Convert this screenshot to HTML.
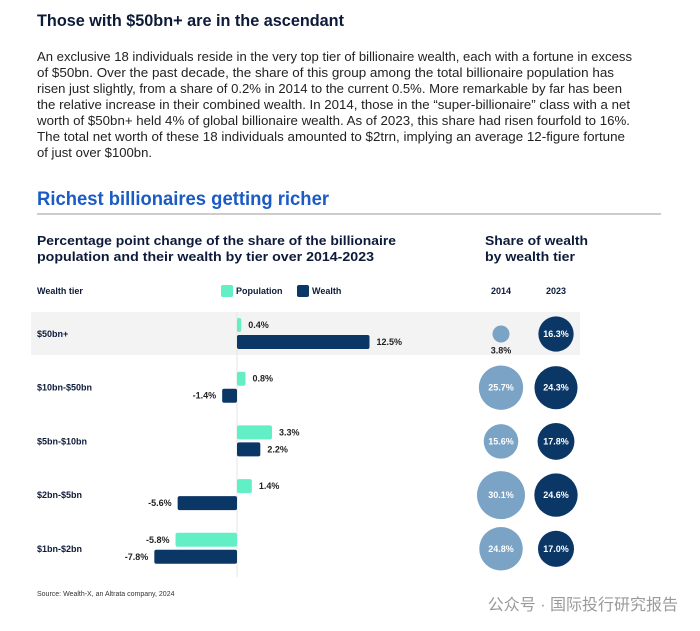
<!DOCTYPE html>
<html><head><meta charset="utf-8"><style>
body{margin:0;background:#fff}
svg{display:block;font-family:"Liberation Sans","Noto Sans CJK SC",sans-serif}
</style></head><body>
<svg id="c" width="700" height="631" viewBox="0 0 700 631">
<text x="37" y="26" font-size="17" font-weight="bold" fill="#0d1b3a" textLength="307" lengthAdjust="spacingAndGlyphs">Those with $50bn+ are in the ascendant</text>
<g font-size="13" fill="#222">
<text x="37" y="61" textLength="595" lengthAdjust="spacingAndGlyphs">An exclusive 18 individuals reside in the very top tier of billionaire wealth, each with a fortune in excess</text>
<text x="37" y="77" textLength="577" lengthAdjust="spacingAndGlyphs">of $50bn. Over the past decade, the share of this group among the total billionaire population has</text>
<text x="37" y="93" textLength="585" lengthAdjust="spacingAndGlyphs">risen just slightly, from a share of 0.2% in 2014 to the current 0.5%. More remarkable by far has been</text>
<text x="37" y="109" textLength="593" lengthAdjust="spacingAndGlyphs">the relative increase in their combined wealth. In 2014, those in the “super-billionaire” class with a net</text>
<text x="37" y="125" textLength="593" lengthAdjust="spacingAndGlyphs">worth of $50bn+ held 4% of global billionaire wealth. As of 2023, this share had risen fourfold to 16%.</text>
<text x="37" y="141" textLength="588" lengthAdjust="spacingAndGlyphs">The total net worth of these 18 individuals amounted to $2trn, implying an average 12-figure fortune</text>
<text x="37" y="157" textLength="115" lengthAdjust="spacingAndGlyphs">of just over $100bn.</text>
</g>
<text x="37" y="205" font-size="19" font-weight="bold" fill="#1a5bc4" textLength="292" lengthAdjust="spacingAndGlyphs">Richest billionaires getting richer</text>
<line x1="37" y1="214" x2="661" y2="214" stroke="#999" stroke-width="1"/>
<g font-size="13" font-weight="bold" fill="#0d1b3a">
<text x="37" y="245" textLength="359" lengthAdjust="spacingAndGlyphs">Percentage point change of the share of the billionaire</text>
<text x="37" y="261" textLength="337" lengthAdjust="spacingAndGlyphs">population and their wealth by tier over 2014-2023</text>
<text x="485" y="245" textLength="103" lengthAdjust="spacingAndGlyphs">Share of wealth</text>
<text x="485" y="261" textLength="90" lengthAdjust="spacingAndGlyphs">by wealth tier</text>
</g>
<g font-size="9" font-weight="bold" fill="#0d1b3a">
<text x="37" y="294">Wealth tier</text>
<rect x="221" y="285" width="12" height="12" rx="2" fill="#62efc6"/>
<text x="236" y="294">Population</text>
<rect x="297" y="285" width="12" height="12" rx="2" fill="#0b3766"/>
<text x="312" y="294">Wealth</text>
<text x="501" y="294" text-anchor="middle">2014</text>
<text x="556" y="294" text-anchor="middle">2023</text>
</g>
<rect x="31" y="312" width="549" height="43" fill="#f3f3f3"/>
<g id="marks"></g>
<text x="37" y="596" font-size="7" fill="#333">Source: Wealth-X, an Altrata company, 2024</text>
<text x="678" y="610" font-size="16" fill="#9a9a9a" text-anchor="end">公众号 · 国际投行研究报告</text>
</svg>
<script>
const tiers = ["$50bn+","$10bn-$50bn","$5bn-$10bn","$2bn-$5bn","$1bn-$2bn"];
const popChange = [0.4, 0.8, 3.3, 1.4, -5.8];
const wealthChange = [12.5, -1.4, 2.2, -5.6, -7.8];
const share2014 = [3.8, 25.7, 15.6, 30.1, 24.8];
const share2023 = [16.3, 24.3, 17.8, 24.6, 17.0];

const NS = "http://www.w3.org/2000/svg";
const g = document.getElementById('marks');
const zeroX = 237, pxPer = 10.6;
const xs = v => zeroX + v * pxPer;
const rowY = i => 334 + i * 53.7;
const rad = v => 4.37 * Math.sqrt(v);
function mk(tag, attrs, parent){const e=document.createElementNS(NS,tag);for(const k in attrs)e.setAttribute(k,attrs[k]);(parent||g).appendChild(e);return e;}
function fmt(v){return (v<0?"-":"")+Math.abs(v).toFixed(1)+"%";}

const axis = mk('line',{x1:zeroX,y1:312,x2:zeroX,y2:577,stroke:'#e4e4e4','stroke-width':1});



tiers.forEach((t,i)=>{
  const cy = rowY(i);
  const lab = mk('text',{x:37,y:cy+3,'font-size':9,'font-weight':'bold',fill:'#0d1b3a'});
  lab.textContent = t;
  
  
  [[popChange[i],'#62efc6',cy-16,'population-bar'],[wealthChange[i],'#0b3766',cy+1,'wealth-bar']].forEach(([v,col,y,name])=>{
    const x0 = Math.min(xs(0),xs(v)), w = Math.max(Math.abs(xs(v)-xs(0)),4);
    const r = mk('rect',{x:x0,y:y,width:w,height:14,rx:2,fill:col});
    
    
    const tx = v>=0 ? x0+w+7 : x0-6;
    const tl = mk('text',{x:tx,y:y+10,'font-size':9,'font-weight':'bold',fill:'#222','text-anchor':v>=0?'start':'end'});
    tl.textContent = fmt(v);
    
    
  });
  [[share2014[i],501,'#7aa3c5','circle-2014'],[share2023[i],556,'#0b3766','circle-2023']].forEach(([v,cx,col,name])=>{
    const r = rad(v);
    const c = mk('circle',{cx:cx,cy:cy,r:r,fill:col});
    
    
    const inside = r > 14;
    const tl = mk('text',{x:cx,y:inside?cy+3:cy+r+11,'font-size':9,'font-weight':'bold',fill:inside?'#fff':'#222','text-anchor':'middle'});
    tl.textContent = v.toFixed(1)+"%";
    
    
  });
});
</script>
</body></html>
